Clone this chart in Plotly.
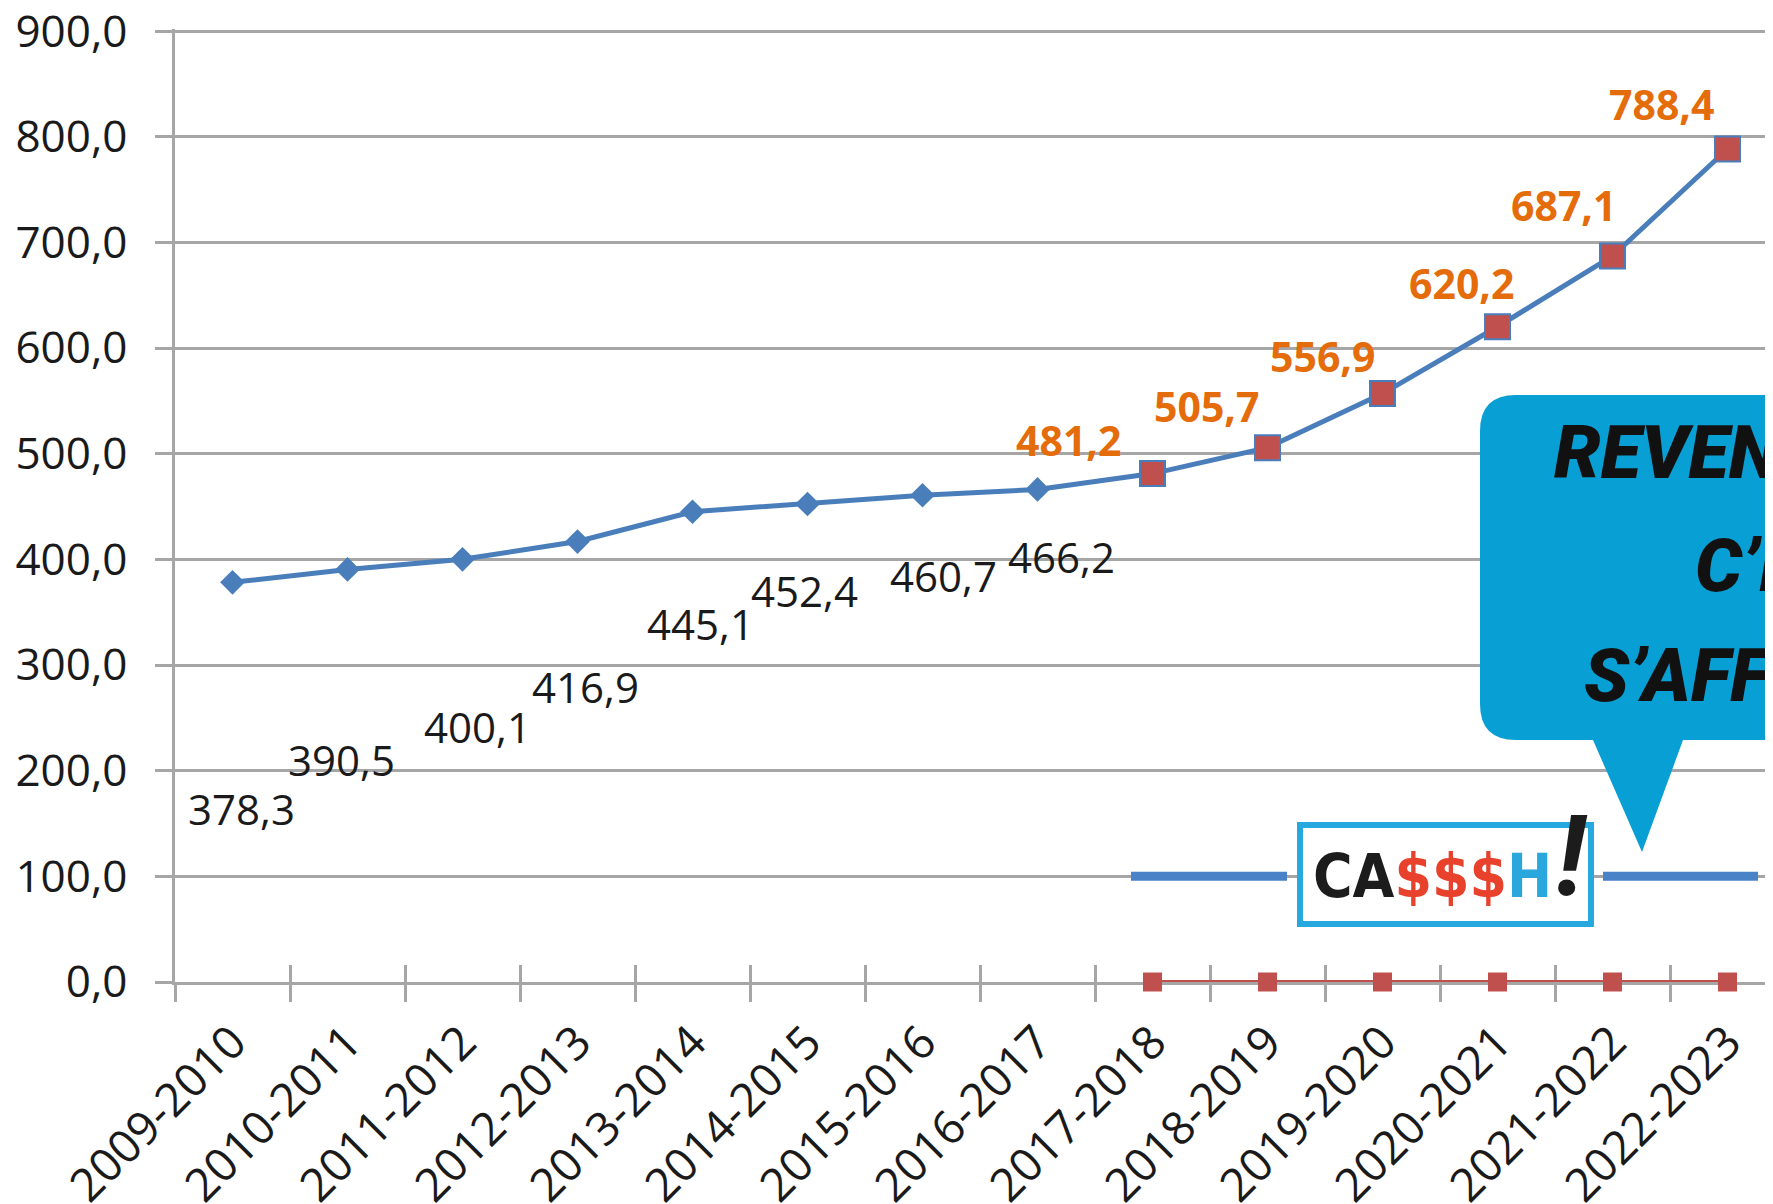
import plotly.graph_objects as go

# ---------------- data ----------------
categories = ["2009-2010", "2010-2011", "2011-2012", "2012-2013", "2013-2014",
              "2014-2015", "2015-2016", "2016-2017", "2017-2018", "2018-2019",
              "2019-2020", "2020-2021", "2021-2022", "2022-2023"]
values = [378.3, 390.5, 400.1, 416.9, 445.1, 452.4, 460.7, 466.2,
          481.2, 505.7, 556.9, 620.2, 687.1, 788.4]
recent_categories = categories[8:]
recent_zero_values = [0, 0, 0, 0, 0, 0]
y_ticks = [0, 100, 200, 300, 400, 500, 600, 700, 800, 900]

callout_lines = ["REVENUS", "C’EST", "S’AFFICHER"]

# ---------------- layout constants (screen pixels) ----------------
W, H = 1773, 1204
PAGE_OFF = 8                      # default body margin of the html page
Y_MAX = 902
L, R, B = 175, 1773, 982          # plot area on screen
T = B - (B - 31) * Y_MAX / 900.0  # 900 gridline at y=31
N_OLD = 8

GRID = "#A6A6A6"
BLUE_LINE = "#4A7EBB"
RED = "#C0504D"
ORANGE = "#E46C0A"
CALLOUT = "#089FD5"

# label pixel offsets (style, not data)
old_dx = [9, -6, 15, 8, 8, -3, 21, 24]
old_dy = [-226, -190, -167, -145, -112, -86, -80, -67]
new_dx = [-84, -61, -60, -36, -49, -66]
new_dy = [34, 42, 38, 44, 51, 45]


def px(x):
    return (x - L) / (R - L)


def py(y):
    return (B - y) / (B - T)


def fmt(v):
    return f"{v:.1f}".replace(".", ",")


fig = go.Figure()

old_cats, old_vals = categories[:N_OLD], values[:N_OLD]
new_cats, new_vals = categories[N_OLD:], values[N_OLD:]

# zero series (on overlay axis)
fig.add_trace(go.Scatter(
    x=recent_categories, y=recent_zero_values, mode="lines+markers",
    line=dict(color=RED, width=4),
    marker=dict(symbol="square", size=19, color=RED, opacity=1),
    showlegend=False, hoverinfo="skip", cliponaxis=False,
    xaxis="x2",
))

# main line
fig.add_trace(go.Scatter(
    x=categories, y=values, mode="lines",
    line=dict(color=BLUE_LINE, width=5),
    showlegend=False, hoverinfo="skip", cliponaxis=False,
))
fig.add_trace(go.Scatter(
    x=old_cats, y=old_vals, mode="markers",
    marker=dict(symbol="diamond", size=19, color=BLUE_LINE, opacity=1,
                line=dict(width=0)),
    showlegend=False, hoverinfo="skip", cliponaxis=False,
))
fig.add_trace(go.Scatter(
    x=new_cats, y=new_vals, mode="markers",
    marker=dict(symbol="square", size=25, color=RED, opacity=1,
                line=dict(color=BLUE_LINE, width=2)),
    showlegend=False, hoverinfo="skip", cliponaxis=False,
))

annotations = []
for i, (c, v) in enumerate(zip(old_cats, old_vals)):
    annotations.append(dict(
        x=c, y=v, xref="x", yref="y", text=fmt(v), showarrow=False,
        xshift=old_dx[i], yshift=old_dy[i],
        font=dict(family="Open Sans", size=42, color="#1a1a1a")))
for j, (c, v) in enumerate(zip(new_cats, new_vals)):
    annotations.append(dict(
        x=c, y=v, xref="x", yref="y", text=fmt(v), showarrow=False,
        xshift=new_dx[j], yshift=new_dy[j],
        font=dict(family="Open Sans", size=41, color=ORANGE, weight="bold")))

# callout text
callout_pos = [(1552, 452), (1693, 565), (1582, 675)]
for txt, (x0, y0) in zip(callout_lines, callout_pos):
    annotations.append(dict(
        x=px(x0), y=py(y0), xref="paper", yref="paper", xanchor="left", yanchor="middle",
        text=txt, showarrow=False,
        font=dict(family="Roboto", size=74, color="#111111", weight=900, style="italic")))

# logo text
annotations.append(dict(
    x=px(1432), y=py(876), xref="paper", yref="paper", xanchor="center", yanchor="middle",
    text="CA<span style='color:#E8412C'>$$$</span><span style='color:#2AA7DC'>H</span>",
    showarrow=False,
    font=dict(family="DejaVu Sans Condensed, Liberation Sans Narrow, Roboto", size=60,
              color="#1c1c1c", weight=600)))
annotations.append(dict(
    x=px(1572), y=py(856), xref="paper", yref="paper", xanchor="center", yanchor="middle",
    text="!", showarrow=False,
    font=dict(family="Roboto", size=112, color="#1c1c1c", weight="bold", style="italic")))

shapes = []
# legend-like blue segments at y=100
for x0, x1 in [(1131, 1287), (1603, 1758)]:
    shapes.append(dict(type="line", xref="paper", yref="y", x0=px(x0), x1=px(x1),
                       y0=100, y1=100, line=dict(color="#4A82C8", width=9), layer="above"))
# logo box
shapes.append(dict(type="rect", xref="paper", yref="paper",
                   x0=px(1300), x1=px(1591), y0=py(825), y1=py(924),
                   fillcolor="white", line=dict(color="#27A8DF", width=6), layer="above"))

# callout bubble
rr = 36
bx0, bx1, by0, by1 = 1480, 1830, 395, 740
tl, tr, tip = 1593, 1683, (1642, 852)
pts = [
    ("M", bx0 + rr, by0), ("L", bx1, by0), ("L", bx1, by1), ("L", tr, by1),
    ("L", tip[0], tip[1]), ("L", tl, by1), ("L", bx0 + rr, by1),
]
path = ""
for cmd, x, y in pts:
    path += f"{cmd}{px(x):.5f},{py(y):.5f} "
path += f"Q{px(bx0):.5f},{py(by1):.5f} {px(bx0):.5f},{py(by1 - rr):.5f} "
path += f"L{px(bx0):.5f},{py(by0 + rr):.5f} "
path += f"Q{px(bx0):.5f},{py(by0):.5f} {px(bx0 + rr):.5f},{py(by0):.5f} Z"
shapes.append(dict(type="path", xref="paper", yref="paper", path=path,
                   fillcolor=CALLOUT, line=dict(width=0), layer="above"))

x_range = [-0.5, -0.5 + (R - L) / 115.0]

fig.update_layout(
    width=W, height=H,
    margin=dict(l=L - PAGE_OFF, r=W - (R - PAGE_OFF), t=T - PAGE_OFF,
                b=H - (B - PAGE_OFF), pad=0, autoexpand=False),
    paper_bgcolor="white", plot_bgcolor="white",
    separators=", ",
    font=dict(family="Open Sans", color="#1a1a1a"),
    xaxis=dict(
        type="category", categoryorder="array", categoryarray=categories,
        range=x_range, tickson="boundaries", ticks="outside", ticklen=17,
        tickwidth=2.5, tickcolor=GRID, showline=True, linecolor=GRID, linewidth=2.5,
        showgrid=False, zeroline=False, tickangle=-45, ticklabelstandoff=12,
        automargin=False, layer="below traces", ticklabeloverflow="allow",
        tickfont=dict(family="Open Sans", size=46, color="#1a1a1a"),
    ),
    xaxis2=dict(
        type="category", categoryorder="array", categoryarray=categories,
        overlaying="x", matches="x", anchor="y", side="bottom",
        range=x_range, tickson="boundaries", ticks="inside", ticklen=17,
        tickwidth=2.5, tickcolor=GRID, showline=False, showgrid=False,
        showticklabels=False, zeroline=False, automargin=False, layer="below traces",
    ),
    yaxis=dict(
        range=[0, Y_MAX], tickvals=y_ticks, tickformat=".1f",
        showgrid=True, gridcolor=GRID, gridwidth=2.5,
        ticks="outside", ticklen=17, tickwidth=2.5, tickcolor=GRID,
        showline=True, linecolor=GRID, linewidth=2.5, zeroline=False,
        ticklabelstandoff=19, automargin=False, layer="below traces",
        ticklabeloverflow="allow",
        tickfont=dict(family="Open Sans", size=44, color="#1a1a1a"),
    ),
    annotations=annotations,
    shapes=shapes,
)

fig.write_html("out.html", config={"displayModeBar": False})
